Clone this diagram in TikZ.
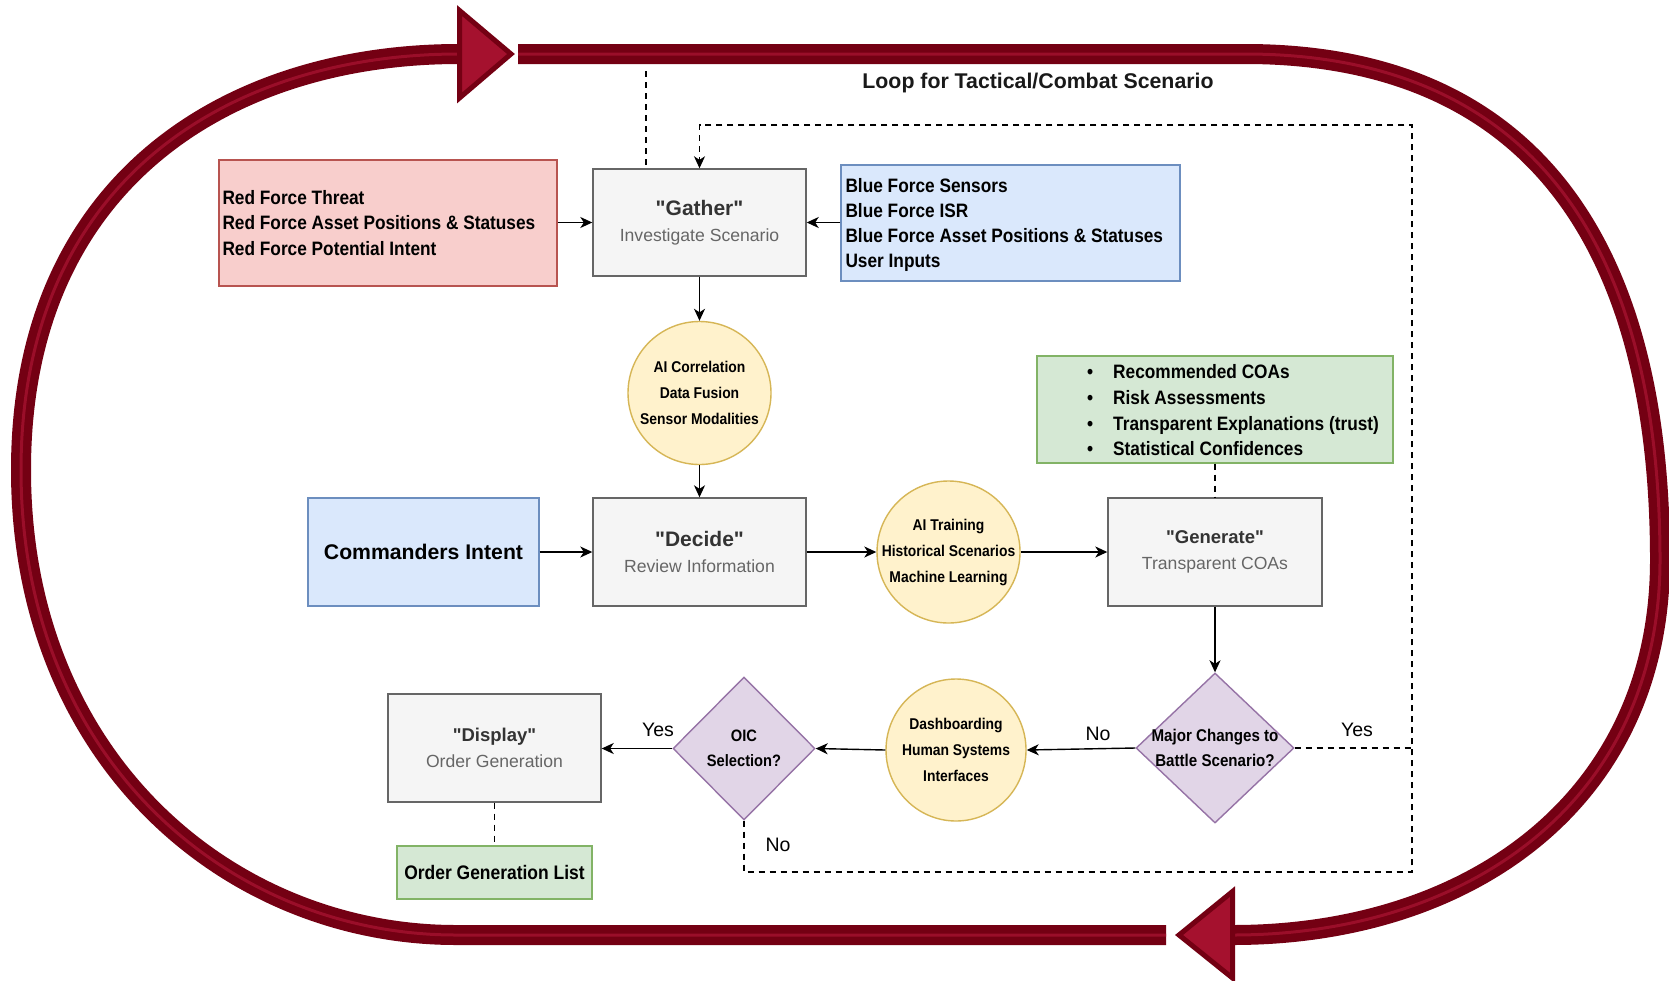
\documentclass[tikz,border=0pt]{standalone}
\usepackage{fontspec}
\setmainfont{Liberation Sans}[Ligatures=TeXOff]
\newfontfamily\narrowsans{Liberation Sans}[Ligatures=TeXOff, FakeStretch=0.89]
\usetikzlibrary{arrows.meta,shapes.geometric,calc}

\definecolor{greyfill}{HTML}{F5F5F5}
\definecolor{greyline}{HTML}{666666}
\definecolor{redfill}{HTML}{F8CECC}
\definecolor{redline}{HTML}{B85450}
\definecolor{bluefill}{HTML}{DAE8FC}
\definecolor{blueline}{HTML}{6C8EBF}
\definecolor{greenfill}{HTML}{D5E8D4}
\definecolor{greenline}{HTML}{82B366}
\definecolor{yellowfill}{HTML}{FFF2CC}
\definecolor{yellowline}{HTML}{D6B656}
\definecolor{purplefill}{HTML}{E1D5E7}
\definecolor{purpleline}{HTML}{9673A6}
\definecolor{loopdark}{HTML}{740013}
\definecolor{loopmid}{HTML}{9A0E29}
\definecolor{loophead}{HTML}{A5112E}
\definecolor{headtext}{HTML}{333333}
\definecolor{subtext}{HTML}{666666}

\newcommand{\fsz}[2]{\fontsize{#1}{#2}\selectfont}
\newcommand{\stagehead}[1]{\fsz{#1}{26}\bfseries\color{headtext}}
\newcommand{\stagesub}{\fsz{17.6}{26}\color{subtext}}

\begin{document}
\begin{tikzpicture}[x=1pt,y=-1pt,
  every node/.style={inner sep=0pt},
  stage/.style={draw=greyline, fill=greyfill, line width=1.4pt,
    minimum width=213pt, minimum height=107pt, align=center,
    font=\fsz{18}{26}},
  inputbox/.style={line width=1.4pt},
  aiell/.style={ellipse, draw=yellowline, fill=yellowfill, line width=1.4pt,
    minimum width=143pt, minimum height=143pt},
  elltext/.style={align=center, font=\narrowsans\fsz{15.6}{26}\bfseries},
  decision/.style={diamond, draw=purpleline, fill=purplefill, line width=1.4pt},
  dectext/.style={align=center, font=\narrowsans\fsz{16.5}{25}\bfseries},
  listtext/.style={anchor=west, align=left, font=\narrowsans\fsz{19.4}{25.2}\bfseries},
  flow/.style={line width=1.4pt, -{Stealth[length=12pt,width=11pt,inset=3.5pt]}},
  dashline/.style={line width=1.4pt, dash pattern=on 6pt off 5pt},
  choice/.style={font=\fsz{19.5}{22}},
  band/.style={line width=8.5pt, draw=loopdark, double=loopmid, double distance=3pt},
  bandhead/.style={fill=loophead, draw=loopdark, line width=5pt, line join=miter}
]
\useasboundingbox (0,0) rectangle (1669,980);
\fill[white] (0,0) rectangle (1669,980);

% ---- the outer loop: two broad arrows chasing each other ----
\coordinate (topstart) at (518,54);
\coordinate (topbend) at (1245,54);
\coordinate (rightmid) at (1660,560);
\coordinate (bothead) at (1233,935);
\coordinate (botstart) at (1166,935);
\coordinate (leftmid) at (21,470);
\coordinate (tophead) at (459,54);

\draw[band] (topstart) -- (topbend)
  .. controls (1520,54) and (1660,230) .. (rightmid)
  .. controls (1660,800) and (1470,935) .. (bothead);
\draw[bandhead] (1232.5,891.5) -- (1179,935) -- (1232.5,978) -- cycle;

\draw[band] (botstart) -- (456,935)
  .. controls (230,935) and (21,760) .. (leftmid)
  .. controls (21,180) and (230,54) .. (tophead);
\draw[bandhead] (459.5,10.5) -- (511,54) -- (459.5,98) -- cycle;

\node[font=\fsz{21.3}{24}\bfseries, text=black!90] (looptitle) at (1038,83)
  {Loop for Tactical/Combat Scenario};

% ---- gather stage and its inputs ----
\node[stage] (gather) at (699.5,222.5)
  {{\stagehead{21}"Gather"}\\{\stagesub Investigate Scenario}};

\node[inputbox, draw=redline, fill=redfill, minimum width=338pt,
  minimum height=126pt] (redforce) at (388,223) {};
\node[listtext] (redlist) at ([xshift=4pt]redforce.west)
  {Red Force Threat\\Red Force Asset Positions \& Statuses\\Red Force Potential Intent};

\node[inputbox, draw=blueline, fill=bluefill, minimum width=339pt,
  minimum height=116pt] (blueforce) at (1010.5,223) {};
\node[listtext] (bluelist) at ([xshift=5pt,yshift=-2pt]blueforce.west)
  {Blue Force Sensors\\Blue Force ISR\\Blue Force Asset Positions \& Statuses\\User Inputs};

\node[aiell, label={[elltext]center:AI Correlation\\Data Fusion\\Sensor Modalities}]
  (aicorr) at (699.5,393) {};

% ---- decide row ----
\node[stage, minimum height=108pt] (decide) at (699.5,552)
  {{\stagehead{21}"Decide"}\\{\stagesub Review Information}};

\node[inputbox, draw=blueline, fill=bluefill, minimum width=231pt,
  minimum height=108pt, font=\fsz{21.2}{24}\bfseries] (intent) at (423.5,552)
  {Commanders Intent};

\node[aiell, minimum height=142pt,
  label={[elltext]center:AI Training\\Historical Scenarios\\Machine Learning}]
  (aitrain) at (948.5,552) {};

\node[stage, minimum width=214pt, minimum height=108pt] (generate) at (1215,552)
  {{\stagehead{18.5}"Generate"}\\{\stagesub Transparent COAs}};

\node[inputbox, draw=greenline, fill=greenfill, minimum width=356pt,
  minimum height=107pt] (coabox) at (1215,409.5) {};
\node[listtext, font=\narrowsans\fsz{19.4}{25.7}\bfseries] (coalist) at (1087,410.5)
  {\makebox[26pt][l]{\textbullet}Recommended COAs\\
   \makebox[26pt][l]{\textbullet}Risk Assessments\\
   \makebox[26pt][l]{\textbullet}Transparent Explanations (trust)\\
   \makebox[26pt][l]{\textbullet}Statistical Confidences};

% ---- decision row ----
\node[decision, minimum width=158pt, minimum height=150pt,
  label={[dectext, font=\narrowsans\fsz{17}{25}\bfseries]center:Major Changes to\\Battle Scenario?}]
  (major) at (1215,748) {};

\node[aiell, minimum width=140pt, minimum height=142pt,
  label={[elltext]center:Dashboarding\\Human Systems\\Interfaces}]
  (dashboard) at (956,750) {};

\node[decision, minimum width=142pt, minimum height=143pt,
  label={[dectext]center:OIC\\Selection?}] (oic) at (744,748.5) {};

\node[stage, minimum height=108pt] (display) at (494.5,748)
  {{\stagehead{18.5}"Display"}\\{\stagesub Order Generation}};

\node[inputbox, draw=greenline, fill=greenfill, minimum width=195pt,
  minimum height=53pt, font=\narrowsans\fsz{19.6}{22}\bfseries] (orderlist) at (494.5,872.5)
  {Order Generation List};

% ---- connectors ----
\draw[flow] (redforce.east |- gather.west) -- (gather.west);
\draw[flow] (blueforce.west |- gather.east) -- (gather.east);
\draw[flow] (gather.south) -- (aicorr.north);
\draw[flow] (aicorr.south) -- (decide.north);
\draw[flow] (intent.east) -- (decide.west);
\draw[flow] (decide.east) -- (aitrain.west);
\draw[flow] (aitrain.east) -- (generate.west);
\draw[dashline] (coabox.south) -- (generate.north);
\draw[flow] (generate.south) -- (major.north);
\draw[flow] (major.west) -- (dashboard.east);
\draw[flow] (dashboard.west) -- (oic.east);
\draw[flow] (oic.west) -- (display.east |- oic.west);
\draw[dashline] (display.south) -- (orderlist.north);

% feedback: a rejected selection or a changed scenario returns to gathering
\coordinate (retbottom) at (1412,872);
\coordinate (rettop) at (1412,125);
\draw[dashline, -{Stealth[length=12pt,width=11pt,inset=3.5pt]}]
  (oic.south) |- (retbottom) -- (rettop) -| (gather.north);
\draw[dashline] (major.east) -- (major.east -| rettop);

% tap from the loop band down to the gather stage
\coordinate (bandtap) at (646,71);
\draw[dashline] (bandtap) -- (bandtap |- gather.north);

% ---- branch labels ----
\node[choice] (oicyes) at (658,730) {Yes};
\node[choice] (oicno) at (778,845) {No};
\node[choice] (majorno) at (1098,733.5) {No};
\node[choice] (majoryes) at (1357,730) {Yes};
\end{tikzpicture}
\end{document}
